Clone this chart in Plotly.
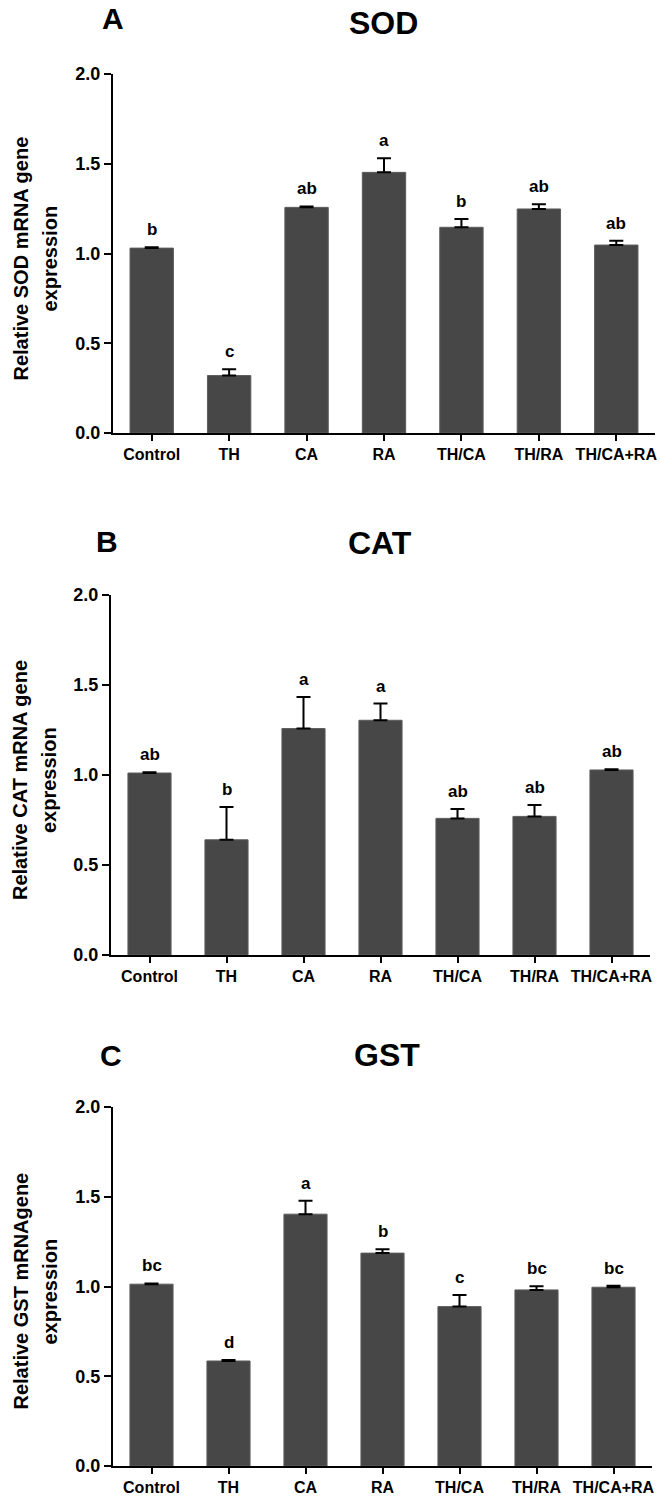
import plotly.graph_objects as go

categories = ["Control", "TH", "CA", "RA", "TH/CA", "TH/RA", "TH/CA+RA"]

sod_values = [1.03, 0.32, 1.257, 1.452, 1.146, 1.248, 1.047]
sod_errors = [0.005, 0.035, 0.005, 0.078, 0.046, 0.026, 0.024]
sod_letters = ["b", "c", "ab", "a", "b", "ab", "ab"]

cat_values = [1.011, 0.640, 1.258, 1.304, 0.759, 0.770, 1.028]
cat_errors = [0.004, 0.182, 0.176, 0.093, 0.052, 0.063, 0.004]
cat_letters = ["ab", "b", "a", "a", "ab", "ab", "ab"]

gst_values = [1.013, 0.585, 1.403, 1.186, 0.888, 0.981, 0.996]
gst_errors = [0.004, 0.006, 0.075, 0.022, 0.065, 0.020, 0.008]
gst_letters = ["bc", "d", "a", "b", "c", "bc", "bc"]

y_ticks = [0.0, 0.5, 1.0, 1.5, 2.0]
y_tick_text = ["0.0", "0.5", "1.0", "1.5", "2.0"]

panels = [
    dict(letter="A", title="SOD", ytitle=["Relative SOD mRNA gene", "expression"],
         values=sod_values, errors=sod_errors, sig=sod_letters,
         xpx=(113, 655), ypx=(74, 433), letter_pos=(113, 18), title_pos=(383, 23)),
    dict(letter="B", title="CAT", ytitle=["Relative CAT mRNA gene", "expression"],
         values=cat_values, errors=cat_errors, sig=cat_letters,
         xpx=(111, 650), ypx=(595, 955), letter_pos=(107, 542), title_pos=(380, 543)),
    dict(letter="C", title="GST", ytitle=["Relative GST mRNAgene", "expression"],
         values=gst_values, errors=gst_errors, sig=gst_letters,
         xpx=(113, 652), ypx=(1107, 1466), letter_pos=(111, 1055), title_pos=(387, 1055)),
]

W, H = 660, 1500
BAR_COLOR = "#474747"
BOLD = "Liberation Sans, Arial, sans-serif"

fig = go.Figure()
annotations = []
layout_axes = {}

for i, p in enumerate(panels):
    n = i + 1
    xa = "x" if n == 1 else f"x{n}"
    ya = "y" if n == 1 else f"y{n}"
    xdom = [p["xpx"][0] / W, p["xpx"][1] / W]
    ydom = [1 - p["ypx"][1] / H, 1 - p["ypx"][0] / H]
    xs = list(range(len(categories)))
    fig.add_trace(go.Bar(
        x=xs, y=p["values"], xaxis=xa, yaxis=ya,
        marker=dict(color=BAR_COLOR, line=dict(color="#5c5c5c", width=1)),
        error_y=dict(type="data", array=p["errors"], arrayminus=[0] * len(xs),
                     symmetric=False, color="black", thickness=2, width=7),
        showlegend=False, hoverinfo="skip",
    ))
    layout_axes["xaxis" if n == 1 else f"xaxis{n}"] = dict(
        domain=xdom, anchor=ya, range=[-0.5, len(categories) - 0.5],
        tickmode="array", tickvals=xs, ticktext=categories,
        showline=True, linecolor="black", linewidth=2,
        ticks="outside", ticklen=6, tickwidth=2, tickcolor="black",
        tickfont=dict(family=BOLD, size=16, color="black", weight="bold"),
        ticklabeloverflow="allow", automargin=False,
        showgrid=False, zeroline=False, fixedrange=True,
    )
    layout_axes["yaxis" if n == 1 else f"yaxis{n}"] = dict(
        domain=ydom, anchor=xa, range=[0, 2],
        tickmode="array", tickvals=y_ticks, ticktext=y_tick_text,
        showline=True, linecolor="black", linewidth=2,
        ticks="outside", ticklen=7, tickwidth=2, tickcolor="black",
        tickfont=dict(family=BOLD, size=18, color="black", weight="bold"),
        ticklabeloverflow="allow", automargin=False,
        showgrid=False, zeroline=False, fixedrange=True,
    )
    # significance letters
    for j, (v, e, s) in enumerate(zip(p["values"], p["errors"], p["sig"])):
        annotations.append(dict(
            x=j, y=v + e, xref=xa, yref=ya, text=f"<b>{s}</b>", showarrow=False,
            yanchor="bottom", yshift=6,
            font=dict(family=BOLD, size=17, color="black"),
        ))
    # panel letter & title
    annotations.append(dict(
        x=p["letter_pos"][0] / W, y=1 - p["letter_pos"][1] / H, xref="paper", yref="paper",
        text=f"<b>{p['letter']}</b>", showarrow=False, xanchor="center", yanchor="middle",
        font=dict(family=BOLD, size=30, color="black"),
    ))
    annotations.append(dict(
        x=p["title_pos"][0] / W, y=1 - p["title_pos"][1] / H, xref="paper", yref="paper",
        text=f"<b>{p['title']}</b>", showarrow=False, xanchor="center", yanchor="middle",
        font=dict(family=BOLD, size=32, color="black"),
    ))
    # y-axis title (two lines)
    ymid = 1 - ((p["ypx"][0] + p["ypx"][1]) / 2 + 5) / H
    for k, (line, xpx) in enumerate(zip(p["ytitle"], [20, 49])):
        annotations.append(dict(
            x=xpx / W, y=ymid, xref="paper", yref="paper", text=f"<b>{line}</b>",
            showarrow=False, textangle=-90, xanchor="center", yanchor="middle",
            font=dict(family=BOLD, size=20, color="black"),
        ))

fig.update_layout(
    width=W, height=H, margin=dict(l=0, r=0, t=0, b=0, autoexpand=False),
    paper_bgcolor="white", plot_bgcolor="white",
    bargap=0.44, annotations=annotations, **layout_axes,
)

fig.write_html(
    "out.html",
    config={"displayModeBar": False},
    post_script="document.body.style.margin='0';document.body.style.overflow='hidden';",
)
